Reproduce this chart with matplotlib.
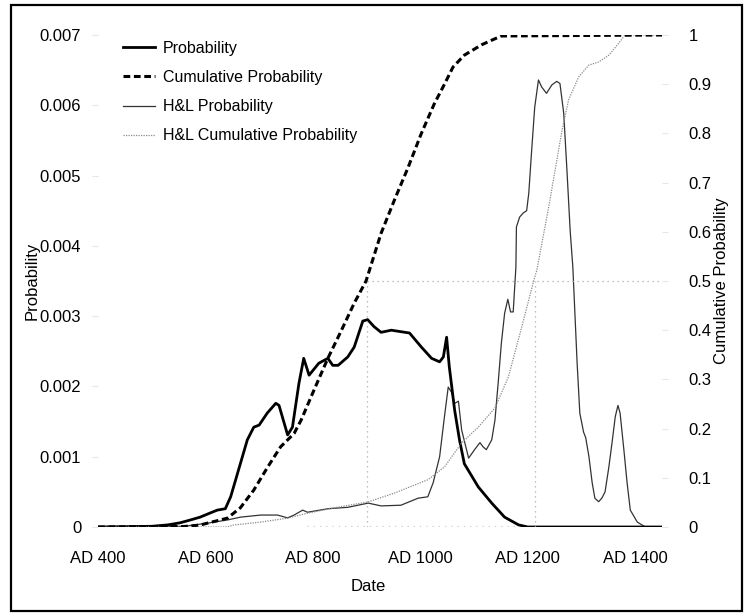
import matplotlib
matplotlib.use('Agg')
import matplotlib.pyplot as plt
from matplotlib.lines import Line2D
from matplotlib.patches import Rectangle

plt.rcParams['font.family'] = ['Liberation Sans', 'DejaVu Sans']

# Probability (thick solid), left axis
prob_years = [400, 500, 530, 553, 572, 590, 609, 622, 637, 647, 665, 678, 690, 700, 715, 731,
              737, 753, 762, 774, 783, 793, 811, 828, 837, 847, 865, 877, 893, 902, 914, 927,
              946, 980, 1002, 1021, 1036, 1043, 1049, 1054, 1064, 1073, 1082, 1108, 1133,
              1157, 1183, 1200, 1450]
prob = [0, 0.00001, 0.00003, 0.00006, 0.0001, 0.00014, 0.0002, 0.00024, 0.00026, 0.00043,
        0.0009, 0.00124, 0.00142, 0.00145, 0.00162, 0.00176, 0.00173, 0.00131, 0.00142,
        0.00204, 0.0024, 0.00216, 0.00233, 0.0024, 0.0023, 0.0023, 0.00242, 0.00256, 0.00293,
        0.00295, 0.00285, 0.00277, 0.0028, 0.00276, 0.00256, 0.0024, 0.00235, 0.00242,
        0.0027, 0.00228, 0.00166, 0.00124, 0.0009, 0.00057, 0.00034, 0.00014, 0.00003, 0, 0]

# Cumulative probability (thick dashed), right axis
cum_years = [400, 560, 590, 641, 665, 690, 716, 740, 765, 778, 802, 828, 852, 877, 899, 927,
             952, 977, 1002, 1026, 1045, 1061, 1082, 1114, 1130, 1151, 1450]
cum = [0, 0.001, 0.004, 0.018, 0.039, 0.075, 0.122, 0.163, 0.19, 0.217, 0.278, 0.343, 0.397,
       0.455, 0.5, 0.597, 0.665, 0.73, 0.80, 0.86, 0.90, 0.935, 0.959, 0.98, 0.988, 0.998, 1.0]

# H&L probability (thin solid), left axis
hl_years = [400, 560, 600, 641, 665, 703, 734, 753, 765, 781, 790, 828, 865, 903, 927, 964,
            996, 1014, 1024, 1036, 1045, 1052, 1058, 1064, 1071, 1077, 1090, 1101, 1111, 1117,
            1123, 1133, 1139, 1145, 1151, 1157, 1163, 1168, 1173, 1178, 1179, 1185, 1192, 1198,
            1202, 1207, 1213, 1220, 1226, 1235, 1245, 1254, 1260, 1267, 1273, 1279, 1284, 1292,
            1297, 1304, 1308, 1314, 1320, 1325, 1332, 1338, 1344, 1351, 1357, 1363, 1368, 1372,
            1379, 1385, 1391, 1404, 1419, 1450]
hl_prob = [0, 0.00001, 0.00005, 0.0001, 0.00014, 0.00017, 0.00017, 0.00013, 0.00017, 0.00024,
           0.00021, 0.00026, 0.00028, 0.00034, 0.0003, 0.00031, 0.00041, 0.00043, 0.00063,
           0.001, 0.00157, 0.00199, 0.00192, 0.00176, 0.00179, 0.00138, 0.00098, 0.0011,
           0.0012, 0.00114, 0.0011, 0.00124, 0.00152, 0.00205, 0.00262, 0.00304, 0.00324,
           0.00306, 0.00306, 0.0037, 0.00427, 0.00441, 0.00447, 0.0045, 0.00475, 0.00532,
           0.00597, 0.00636, 0.00626, 0.00617, 0.00629, 0.00634, 0.00631, 0.00589, 0.00508,
           0.00422, 0.0037, 0.00233, 0.00162, 0.00135, 0.00127, 0.001, 0.00063, 0.00041,
           0.00036, 0.00041, 0.0005, 0.00085, 0.0012, 0.00157, 0.00173, 0.00162, 0.0011,
           0.00063, 0.00024, 0.00007, 0, 0]

# H&L cumulative probability (thin dotted), right axis
hlc_years = [400, 641, 652, 703, 753, 790, 840, 903, 952, 1014, 1045, 1077, 1108, 1139, 1164,
             1189, 1213, 1217, 1239, 1264, 1276, 1295, 1314, 1332, 1351, 1370, 1381, 1450]
hl_cum = [0, 0.0, 0.004, 0.01, 0.018, 0.028, 0.039, 0.051, 0.069, 0.096, 0.122, 0.171, 0.203,
          0.242, 0.305, 0.407, 0.508, 0.522, 0.65, 0.807, 0.868, 0.915, 0.939, 0.945, 0.959,
          0.984, 1.0, 1.0]

x_ticks = [400, 600, 800, 1000, 1200, 1400]
x_labels = ['AD 400', 'AD 600', 'AD 800', 'AD 1000', 'AD 1200', 'AD 1400']
left_ticks = [0, 0.001, 0.002, 0.003, 0.004, 0.005, 0.006, 0.007]
left_labels = ['0', '0.001', '0.002', '0.003', '0.004', '0.005', '0.006', '0.007']
right_ticks = [0, 0.1, 0.2, 0.3, 0.4, 0.5, 0.6, 0.7, 0.8, 0.9, 1.0]
right_labels = ['0', '0.1', '0.2', '0.3', '0.4', '0.5', '0.6', '0.7', '0.8', '0.9', '1']

W, H = 747, 614
fig = plt.figure(figsize=(W / 100, H / 100), dpi=100)
fig.patch.set_facecolor('white')
fig.patches.append(Rectangle((11 / W, 3 / H), 731 / W, 606 / H, transform=fig.transFigure,
                             fill=False, edgecolor='black', linewidth=1.6))

ax = fig.add_axes([98 / W, (H - 527) / H, (662 - 98) / W, (527 - 35) / H])
ax2 = ax.twinx()

fs = 12
ax.plot(prob_years, prob, color='black', lw=2.0, zorder=4)
ax.plot(hl_years, hl_prob, color='#333333', lw=0.9, zorder=3)
ax2.plot(cum_years, cum, color='black', lw=2.2, ls=(0, (2.2, 1.2)), zorder=4)
ax2.plot(hlc_years, hl_cum, color='#8a8a8a', lw=0.9, ls=(0, (1, 1)), zorder=3)

# median guide lines
ax2.plot([900, 900], [0, 0.5], color='#aaaaaa', lw=0.9, ls=(0, (1, 3)))
ax2.plot([900, 1450], [0.5, 0.5], color='#aaaaaa', lw=0.9, ls=(0, (1, 3)))
ax2.plot([1213, 1213], [0, 0.5], color='#aaaaaa', lw=0.9, ls=(0, (1, 3)))
ax2.plot([790, 1180], [0.002, 0.002], color='#cccccc', lw=0.9, ls=(0, (1, 4)))

ax.set_xlim(400, 1450)
ax.set_ylim(0, 0.007)
ax2.set_ylim(0, 1.0)
for a in (ax, ax2):
    for s in a.spines.values():
        s.set_visible(False)

ax.set_xticks(x_ticks)
ax.set_xticklabels(x_labels, fontsize=fs)
ax.set_yticks(left_ticks)
ax.set_yticklabels(left_labels, fontsize=fs)
ax2.set_yticks(right_ticks)
ax2.set_yticklabels(right_labels, fontsize=fs)
ax.tick_params(axis='x', length=0, pad=17)
ax.tick_params(axis='y', length=4, color='#e6e6e6', pad=8)
ax2.tick_params(axis='y', length=4, color='#e6e6e6', pad=15)

ax.set_xlabel('Date', fontsize=fs)
ax.xaxis.set_label_coords(0.479, -0.106)
ax.set_ylabel('Probability', fontsize=fs)
ax.yaxis.set_label_coords(-0.103, 0.5)
ax2.set_ylabel('Cumulative Probability', fontsize=fs)
ax2.yaxis.set_label_coords(1.093, 0.5)

handles = [Line2D([], [], color='black', lw=2.0),
           Line2D([], [], color='black', lw=2.2, ls=(0, (2.2, 1.2))),
           Line2D([], [], color='#333333', lw=0.9),
           Line2D([], [], color='#8a8a8a', lw=0.9, ls=(0, (1, 1)))]
names = ['Probability', 'Cumulative Probability', 'H&L Probability', 'H&L Cumulative Probability']
ax2.legend(handles, names, loc='upper left', bbox_to_anchor=(123 / W, 1 - 41 / H),
           bbox_transform=fig.transFigure, frameon=False, fontsize=11.5, handlelength=2.0,
           handletextpad=0.5, labelspacing=0.88, borderpad=0, borderaxespad=0)

fig.savefig('out.png', dpi=100)
